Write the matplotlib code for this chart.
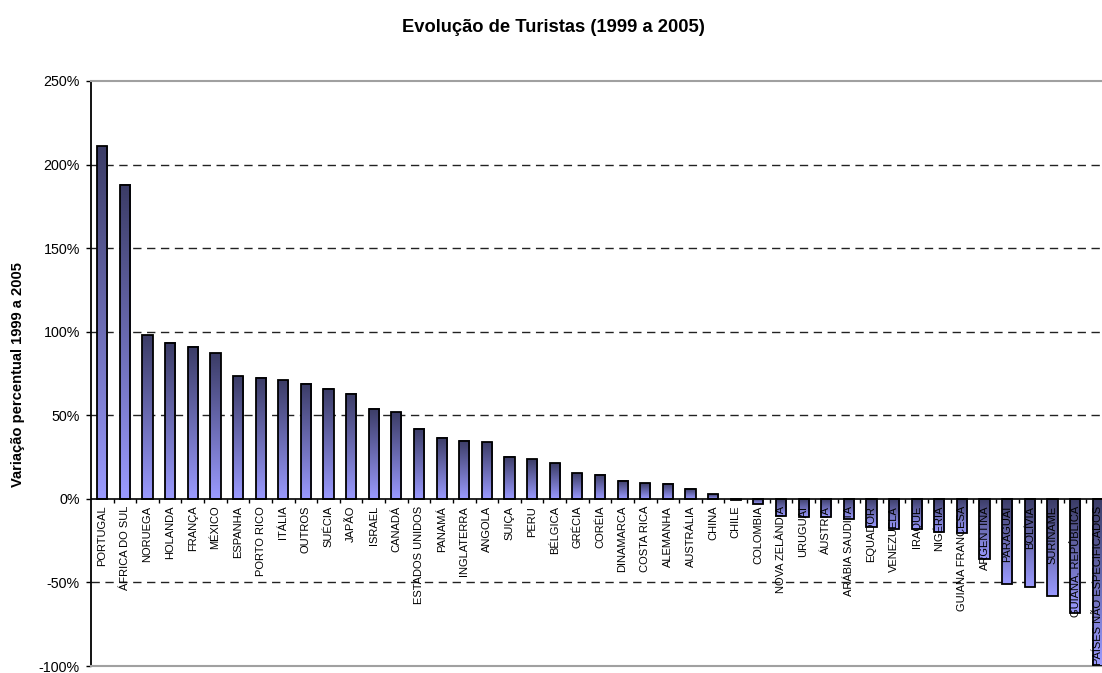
import numpy as np
import matplotlib
matplotlib.use("Agg")
import matplotlib.pyplot as plt
from matplotlib.colors import LinearSegmentedColormap
import matplotlib.transforms as mtransforms

plt.rcParams['font.family'] = ['Liberation Sans', 'DejaVu Sans']

countries = ["PORTUGAL", "ÁFRICA DO SUL", "NORUEGA", "HOLANDA", "FRANÇA", "MÉXICO",
             "ESPANHA", "PORTO RICO", "ITÁLIA", "OUTROS", "SUÉCIA", "JAPÃO", "ISRAEL",
             "CANADÁ", "ESTADOS UNIDOS", "PANAMÁ", "INGLATERRA", "ANGOLA", "SUIÇA",
             "PERU", "BÉLGICA", "GRÉCIA", "CORÉIA", "DINAMARCA", "COSTA RICA",
             "ALEMANHA", "AUSTRÁLIA", "CHINA", "CHILE", "COLOMBIA", "NOVA ZELÂNDIA",
             "URUGUAI", "ÁUSTRIA", "ARÁBIA SAUDITA", "EQUADOR", "VENEZUELA", "IRAQUE",
             "NIGÉRIA", "GUIANA FRANCESA", "ARGENTINA", "PARAGUAI", "BOLÍVIA",
             "SURINAME", "GUIANA, REPÚBLICA", "PAÍSES NÃO ESPECIFICADOS"]
variation = [211, 188, 98, 93.5, 91, 87, 73.5, 72.5, 71, 69, 66, 63, 54, 52,
             42, 36.7, 34.8, 34, 25.3, 23.8, 21.4, 15.4, 14.5, 10.9, 9.2, 9.0,
             6.0, 2.9, -0.5, -3, -10, -11, -11, -12, -17, -18, -18, -20, -20.5,
             -36, -51, -53, -58, -68, -100]
yticks = [-100, -50, 0, 50, 100, 150, 200, 250]
title = "Evolução de Turistas (1999 a 2005)"
ylabel = "Variação percentual 1999 a 2005"

W, H = 1102, 673
fig = plt.figure(figsize=(W / 100, H / 100), dpi=100)
left, right, top, bottom = 91, 1109, 81, 666
ax = fig.add_axes([left / W, (H - bottom) / H, (right - left) / W, (bottom - top) / H])

n = len(countries)
x = np.arange(n)

cmap = LinearSegmentedColormap.from_list("g", ["#9a9aff", "#3b3c66"])
grad = np.linspace(0, 1, 256).reshape(-1, 1)
bw = 0.45
bars = ax.bar(x, variation, width=bw, color='none', edgecolor='black', linewidth=1.3, zorder=3)
for b in bars:
    x0, y0 = b.get_x(), b.get_y()
    w, h = b.get_width(), b.get_height()
    ylo, yhi = min(y0, y0 + h), max(y0, y0 + h)
    if yhi - ylo <= 0:
        continue
    ax.imshow(grad, cmap=cmap, extent=(x0, x0 + w, ylo, yhi), origin='lower',
              aspect='auto', zorder=2, interpolation='bilinear')
ax.set_xlim(-0.5, n - 0.5)
ax.set_ylim(-100, 250)

for yv in yticks:
    if yv in (0, -100, 250):
        continue
    ax.axhline(yv, color='#222222', linestyle=(0, (6, 4)), linewidth=1.0, zorder=1)

ax.axhline(0, color='black', linewidth=1.2, zorder=4)
ax.vlines(x[:-1] + 0.5, 0, -2.4, color='black', linewidth=1.0, zorder=4)

for s in ['top', 'right', 'bottom']:
    ax.spines[s].set_color('#a0a0a0')
    ax.spines[s].set_linewidth(1.5)
ax.spines['left'].set_color('black')
ax.spines['left'].set_linewidth(1.3)

ax.set_xticks([])
ax.set_yticks(yticks)
ax.set_yticklabels([f"{v}%" for v in yticks], fontsize=10.3)
ax.tick_params(axis='y', length=3.5, width=1, direction='out', pad=4.5)

trans = mtransforms.offset_copy(ax.transData, fig=fig, x=0, y=-7, units='dots')
for xi, name in zip(x, countries):
    ax.text(xi, 0, name, rotation=90, ha='center', va='top', fontsize=8,
            transform=trans, zorder=5)

fig.text(553 / W, 1 - 27 / H, title, ha='center', va='center', fontsize=13.2, fontweight='bold')
fig.text(18 / W, 1 - 375 / H, ylabel, ha='center', va='center', rotation=90,
         fontsize=10.6, fontweight='bold')

fig.savefig("out.png", dpi=100)
